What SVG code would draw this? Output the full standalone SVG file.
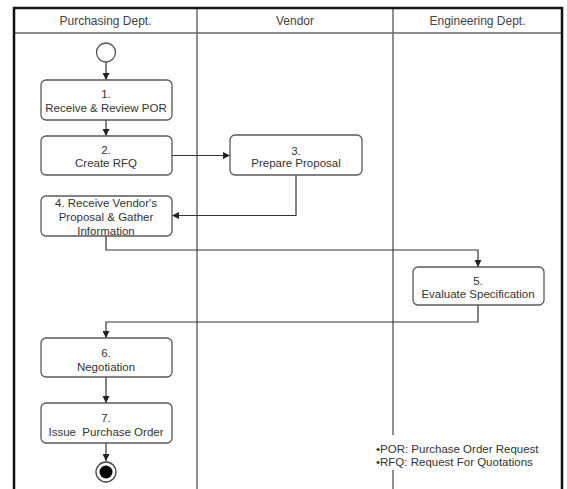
<svg xmlns="http://www.w3.org/2000/svg" width="567" height="489" viewBox="0 0 567 489">
  <style>
    .lane { fill: none; stroke: #6a6a6a; stroke-width: 1.5; }
    .frame { fill: none; stroke: #111; stroke-width: 2.5; }
    .hdr { font-family: "Liberation Sans", Arial, sans-serif; font-size: 12px; fill: #444; text-anchor: middle; }
    .box { fill: #fff; stroke: #5a5a5a; stroke-width: 1.3; }
    .lbl { font-family: "Liberation Sans", Arial, sans-serif; font-size: 11.5px; fill: #333; text-anchor: middle; }
    .note { font-family: "Liberation Sans", Arial, sans-serif; font-size: 11.5px; fill: #333; }
    .edge { fill: none; stroke: #333; stroke-width: 1.2; }
  </style>
  <defs>
    <marker id="arrow" viewBox="0 0 8 8" refX="8" refY="4" markerWidth="7" markerHeight="7" markerUnits="userSpaceOnUse" orient="auto">
      <path d="M0,0 L8,4 L0,8 Z" fill="#222"/>
    </marker>
  </defs>

  <rect x="0" y="0" width="567" height="489" fill="#fff"/>

  <!-- swimlane frame -->
  <g id="lanes">
    <line class="lane" x1="14" y1="33" x2="562" y2="33"/>
    <line class="lane" x1="197" y1="8" x2="197" y2="489"/>
    <line class="lane" x1="393" y1="8" x2="393" y2="489"/>
    <path class="frame" d="M14,489 V8 H562 V489"/>
    <text class="hdr" x="105.5" y="25">Purchasing Dept.</text>
    <text class="hdr" x="295" y="25">Vendor</text>
    <text class="hdr" x="477.5" y="25">Engineering Dept.</text>
  </g>

  <!-- connectors -->
  <g id="connectors">
    <path class="edge" d="M106,62 V80" marker-end="url(#arrow)"/>
    <path class="edge" d="M106,120 V136" marker-end="url(#arrow)"/>
    <path class="edge" d="M172,155.5 H230" marker-end="url(#arrow)"/>
    <path class="edge" d="M296,175 V215.5 H172" marker-end="url(#arrow)"/>
    <path class="edge" d="M106,236 V250 H478 V267" marker-end="url(#arrow)"/>
    <path class="edge" d="M478,305 V322 H106 V338" marker-end="url(#arrow)"/>
    <path class="edge" d="M106,377 V403" marker-end="url(#arrow)"/>
    <path class="edge" d="M106,443 V461" marker-end="url(#arrow)"/>
  </g>

  <g id="start">
    <circle cx="106" cy="52.5" r="9.5" fill="#fff" stroke="#555" stroke-width="1.3"/>
  </g>

  <g id="node1">
    <rect class="box" x="41" y="80" width="131" height="40" rx="5"/>
    <text class="lbl" x="106" y="98">1.</text>
    <text class="lbl" x="106" y="112">Receive &amp; Review POR</text>
  </g>

  <g id="node2">
    <rect class="box" x="41" y="136" width="131" height="39" rx="5"/>
    <text class="lbl" x="106" y="154">2.</text>
    <text class="lbl" x="106" y="167">Create RFQ</text>
  </g>

  <g id="node3">
    <rect class="box" x="230" y="135" width="132" height="40" rx="5"/>
    <text class="lbl" x="296" y="155">3.</text>
    <text class="lbl" x="296" y="167">Prepare Proposal</text>
  </g>

  <g id="node4">
    <rect class="box" x="41" y="196" width="131" height="40" rx="5"/>
    <text class="lbl" x="106" y="207">4. Receive Vendor's</text>
    <text class="lbl" x="106" y="221">Proposal &amp; Gather</text>
    <text class="lbl" x="106" y="235">Information</text>
  </g>

  <g id="node5">
    <rect class="box" x="413" y="267" width="131" height="38" rx="5"/>
    <text class="lbl" x="478" y="285">5.</text>
    <text class="lbl" x="478" y="298">Evaluate Specification</text>
  </g>

  <g id="node6">
    <rect class="box" x="41" y="338" width="131" height="39" rx="5"/>
    <text class="lbl" x="106" y="357">6.</text>
    <text class="lbl" x="106" y="371">Negotiation</text>
  </g>

  <g id="node7">
    <rect class="box" x="41" y="403" width="131" height="40" rx="5"/>
    <text class="lbl" x="106" y="422">7.</text>
    <text class="lbl" x="106" y="436" xml:space="preserve">Issue  Purchase Order</text>
  </g>

  <g id="end">
    <circle cx="106" cy="472" r="10" fill="#fff" stroke="#444" stroke-width="1.3"/>
    <circle cx="106" cy="472" r="6.5" fill="#000"/>
  </g>

  <!-- abbreviation notes, on a white block that interrupts the lane line -->
  <g id="legend">
    <rect x="374" y="435" width="176" height="35" fill="#fff"/>
    <text class="note" x="376" y="453">•POR: Purchase Order Request</text>
    <text class="note" x="376" y="466">•RFQ: Request For Quotations</text>
  </g>
</svg>
